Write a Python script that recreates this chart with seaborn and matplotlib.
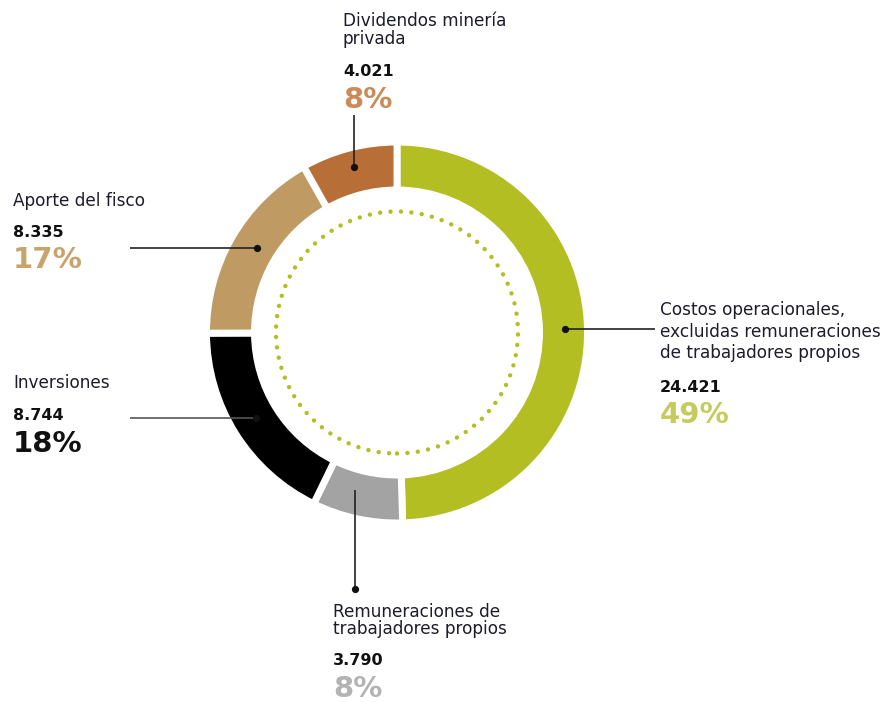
import numpy as np
import pandas as pd
import matplotlib
matplotlib.use("Agg")
import matplotlib.pyplot as plt
from matplotlib.patches import Circle
import seaborn as sns

# ---- data ----
categories = ["Costos operacionales,\nexcluidas remuneraciones\nde trabajadores propios",
              "Remuneraciones de\ntrabajadores propios",
              "Inversiones",
              "Aporte del fisco",
              "Dividendos minería\nprivada"]
values = [24421, 3790, 8744, 8335, 4021]
value_labels = ["24.421", "3.790", "8.744", "8.335", "4.021"]
pct_labels = ["49%", "8%", "18%", "17%", "8%"]

wedge_colors = ["#b3be22", "#a3a3a3", "#000000", "#bf9a62", "#b86e37"]
pct_colors = ["#c6cc5c", "#b3b3b3", "#111111", "#c8a46c", "#c98c58"]

df = pd.DataFrame({"categoria": categories, "valor": values})

sns.set_theme(style="white")
plt.rcParams["font.family"] = ["DejaVu Sans"]

W, H = 886, 702
fig = plt.figure(figsize=(W / 100, H / 100), dpi=100)
ax = fig.add_axes([0, 0, 1, 1])

def Y(y):
    return H - y

cx, cy = 397, 332.5
palette = sns.color_palette(wedge_colors)
ax.pie(df["valor"], colors=palette, startangle=90, counterclock=False,
       radius=190.5, center=(cx, Y(cy)),
       wedgeprops=dict(width=48, edgecolor="white", linewidth=5))

# dotted inner circle
circ = Circle((cx, Y(cy)), 121, fill=False, edgecolor="#b3be22",
              linewidth=3.2, linestyle=(0, (0.001, 2.35)))
circ.set_capstyle("round")
ax.add_patch(circ)

ax.set_xlim(0, W)
ax.set_ylim(0, H)
ax.set_aspect("equal")
ax.axis("off")

# ---- leader lines (layout) ----
line_c = "#222222"
leaders = [
    # (x0, y0, x1, y1, dot position)
    (565, 329, 655, 329, "start"),   # costos
    (355, 490, 355, 589, "end"),     # remuneraciones
    (130, 418, 256, 418, "end"),     # inversiones
    (130, 248, 257, 248, "end"),     # aporte
    (354, 115, 354, 167, "end"),     # dividendos
]
for i, (x0, y0, x1, y1, d) in enumerate(leaders):
    c = "#555555" if i == 2 else line_c
    ax.plot([x0, x1], [Y(y0), Y(y1)], color=c, lw=1.2, solid_capstyle="butt", zorder=5)
    px, py = (x0, y0) if d == "start" else (x1, y1)
    ax.plot([px], [Y(py)], marker="o", ms=4.2, color="#111111", zorder=6)

# ---- text blocks (layout) ----
text_c = "#1c1c2a"
blocks = [
    # x, line baselines, number baseline, pct baseline
    (660, [315, 337, 358], 392, 423),
    (333, [617, 634], 665, 697),
    (13, [388], 420, 452),
    (13, [206], 237, 268),
    (343, [26, 44], 76, 108),
]
for i, (x, lbs, nb, pb) in enumerate(blocks):
    for line, b in zip(categories[i].split("\n"), lbs):
        ax.text(x, Y(b), line, fontsize=12.2, color=text_c, ha="left", va="baseline")
    ax.text(x, Y(nb), value_labels[i], fontsize=11.5, fontweight="bold",
            color="#111111", ha="left", va="baseline")
    ax.text(x, Y(pb), pct_labels[i], fontsize=21, fontweight="bold",
            color=pct_colors[i], ha="left", va="baseline")

fig.savefig("out.png", dpi=100)
